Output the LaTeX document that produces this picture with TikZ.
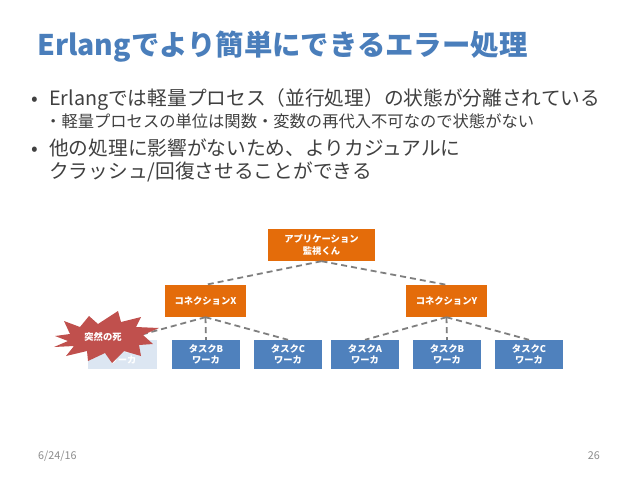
\documentclass[tikz,border=0pt]{standalone}
\usepackage{fontspec}
\setmainfont{Noto Sans CJK JP}
\definecolor{titleblue}{HTML}{4A7EBB}
\definecolor{orangebox}{HTML}{E46C0A}
\definecolor{bluebox}{HTML}{4F81BD}
\definecolor{deadbox}{HTML}{DCE6F2}
\definecolor{burstred}{HTML}{C0504D}
\definecolor{bodytxt}{HTML}{404040}
\definecolor{conngray}{HTML}{7F7F7F}
\definecolor{foot}{HTML}{8C8C8C}
\begin{document}
\begin{tikzpicture}[x=1pt,y=-1pt,
  obox/.style={fill=orangebox, draw=none, inner sep=0pt, text=white, font=\fontsize{9.3}{11.5}\selectfont\bfseries, align=center, minimum height=32pt},
  tbox/.style={fill=bluebox, draw=none, inner sep=0pt, text=white, font=\fontsize{9.3}{11.5}\selectfont\bfseries, align=center, minimum width=68pt, minimum height=29pt},
  conndash/.style={draw=conngray, line width=1.8pt, dash pattern=on 6pt off 4pt},
  body/.style={anchor=base west, text=bodytxt, inner sep=0pt}]
\fill[white] (0,0) rectangle (638,479);
\node[anchor=base west, inner sep=0pt, text=titleblue, font=\fontsize{28.4}{31}\selectfont\bfseries] (title) at (37,55) {Erlangでより簡単にできるエラー処理};
\node[body, font=\fontsize{19.7}{22}\selectfont] (b1dot) at (31,105) {•};
\node[body, font=\fontsize{19.7}{22}\selectfont] (b1) at (49,105) {Erlangでは軽量プロセス（並行処理）の状態が分離されている};
\node[body, font=\fontsize{16.3}{18}\selectfont] (b2) at (45,127) {・軽量プロセスの単位は関数・変数の再代入不可なので状態がない};
\node[body, font=\fontsize{19.7}{22}\selectfont] (b3dot) at (31,155) {•};
\node[body, font=\fontsize{19.7}{22}\selectfont] (b3) at (49,155) {他の処理に影響がないため、よりカジュアルに};
\node[body, font=\fontsize{19.7}{22}\selectfont] (b4) at (49,178) {クラッシュ/回復させることができる};
% diagram
\node[obox, minimum width=107pt] (app) at (321.5,245) {アプリケーション\\監視くん};
\node[obox, minimum width=81pt] (cx) at (205.5,301) {コネクションX};
\node[obox, minimum width=81pt] (cy) at (446.5,301) {コネクションY};
\node[tbox, fill=deadbox, minimum width=69pt] (t0) at (122.5,354.5) {タスクA\\ワーカ};
\node[tbox] (t1) at (206,354.5) {タスクB\\ワーカ};
\node[tbox] (t2) at (288,354.5) {タスクC\\ワーカ};
\node[tbox] (t3) at (365,354.5) {タスクA\\ワーカ};
\node[tbox] (t4) at (447,354.5) {タスクB\\ワーカ};
\node[tbox] (t5) at (529,354.5) {タスクC\\ワーカ};
\draw[conndash] (app.south) -- (cx.north);
\draw[conndash] (app.south) -- (cy.north);
\draw[conndash] (cx.south) -- (t0.north);
\draw[conndash] (cx.south) -- (t1.north);
\draw[conndash] (cx.south) -- (t2.north);
\draw[conndash] (cy.south) -- (t3.north);
\draw[conndash] (cy.south) -- (t4.north);
\draw[conndash] (cy.south) -- (t5.north);
% explosion
\fill[burstred] (55,336) -- (70,334) -- (64,321) -- (80,327) -- (89,316) -- (98,324) -- (118,311) -- (121,322) -- (141,317) -- (136,327) -- (159,328) -- (143,335) -- (153,344) -- (139,345) -- (141,356) -- (124,351) -- (112,363) -- (105,353) -- (88,361) -- (87,351) -- (66,356) -- (74,346) -- (54,347) -- (68,341) -- cycle;
\node[text=white, font=\fontsize{9.3}{11}\selectfont\bfseries, inner sep=0pt] (death) at (103,337) {突然の死};
% footer
\node[anchor=base west, inner sep=0pt, text=foot, font=\fontsize{10.8}{12}\selectfont] (date) at (38,459) {6/24/16};
\node[anchor=base east, inner sep=0pt, text=foot, font=\fontsize{10.8}{12}\selectfont] (page) at (600,459) {26};
\end{tikzpicture}
\end{document}
